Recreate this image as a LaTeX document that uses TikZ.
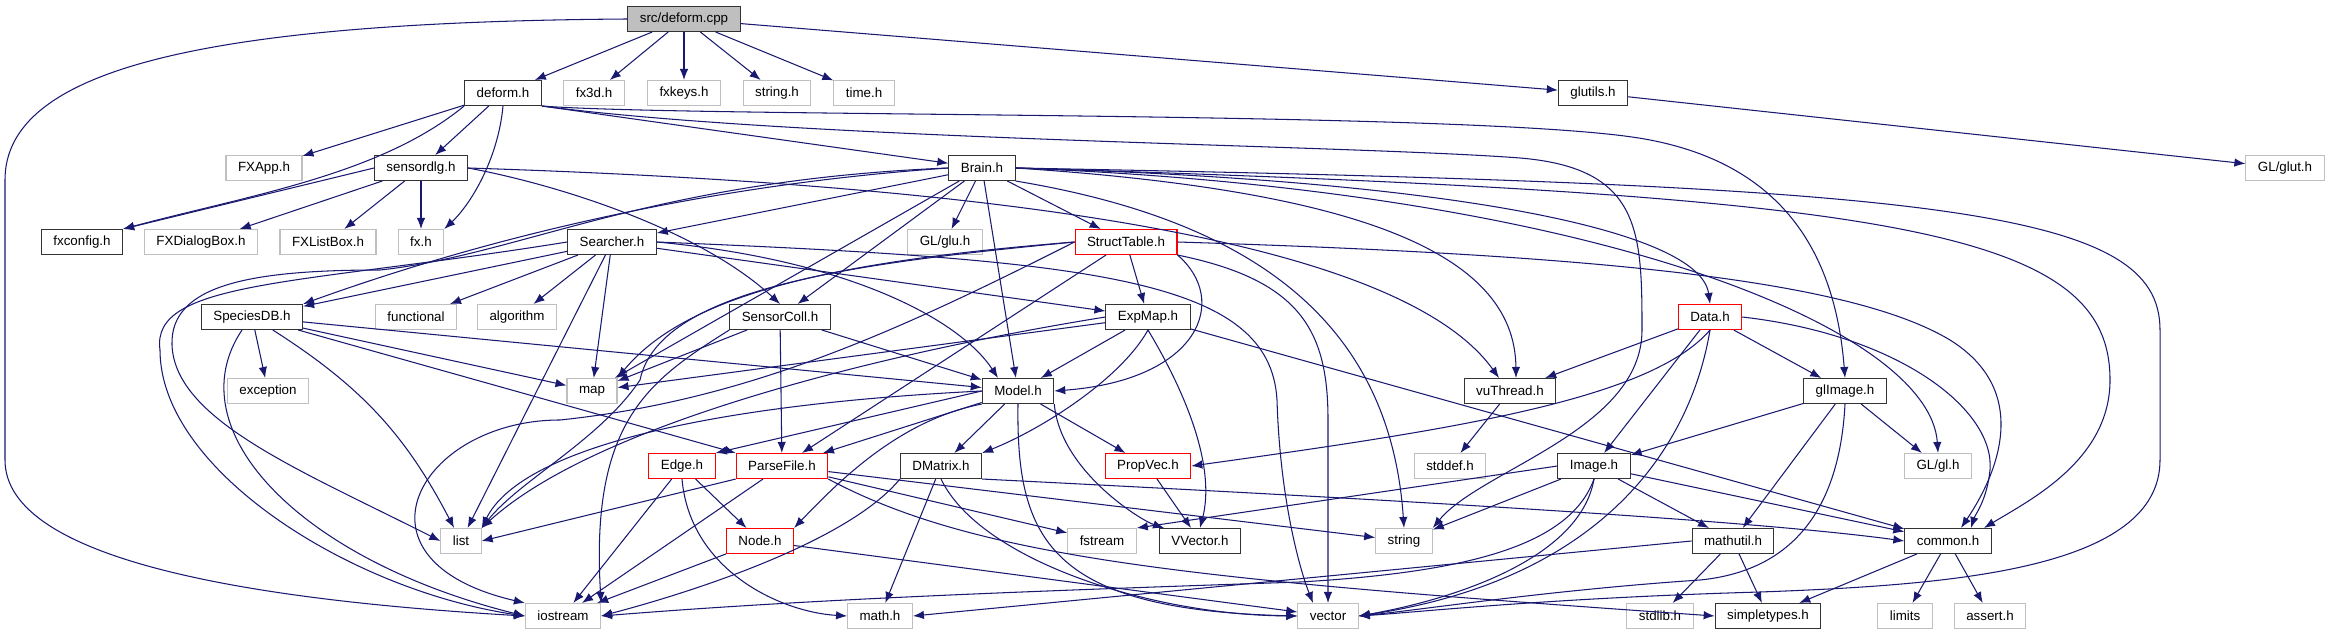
\documentclass[tikz,border=0pt]{standalone}
\usepackage{fontspec}
\setmainfont{Liberation Sans}
\usetikzlibrary{arrows.meta,positioning}
\definecolor{incblue}{RGB}{25,25,112}
\definecolor{sysgray}{RGB}{191,191,191}
\tikzset{
  filebox/.style={draw=black!80,fill=white,line width=0.6pt,minimum height=0.5cm,
    inner xsep=0.24cm,inner ysep=0pt,font=\fontsize{7.6}{9}\selectfont},
  sysbox/.style={filebox,draw=sysgray},
  redbox/.style={filebox,draw=red},
  srcbox/.style={filebox,fill=sysgray},
  incarrow/.style={-{Latex[length=0.22cm,width=0.17cm]},draw=incblue,line width=0.6pt}
}
\begin{document}
\begin{tikzpicture}[x=0.02cm,y=-0.02cm]
  \useasboundingbox (0,0) rectangle (2328,635);
  % files, row by row
  \node[srcbox] (cpp) at (684,19) {src/deform.cpp};
  \node[filebox] (deform) at (503,93) {deform.h};
  \node[sysbox] (fxthreed) at (594,93) {fx3d.h};
  \node[sysbox] (fxkeys) at (684,93) {fxkeys.h};
  \node[sysbox] (stringh) at (777,93) {string.h};
  \node[sysbox] (timeh) at (864,93) {time.h};
  \node[filebox] (glutils) at (1593,93) {glutils.h};
  \node[sysbox] (fxapp) at (264,168) {FXApp.h};
  \node[filebox] (sensordlg) at (421,168) {sensordlg.h};
  \node[filebox] (brain) at (982,168) {Brain.h};
  \node[sysbox] (glut) at (2285,168) {GL/glut.h};
  \node[filebox] (fxconfig) at (82,242) {fxconfig.h};
  \node[sysbox] (fxdialogbox) at (201,242) {FXDialogBox.h};
  \node[sysbox] (fxlistbox) at (328,242) {FXListBox.h};
  \node[sysbox] (fxh) at (421,242) {fx.h};
  \node[filebox] (searcher) at (612,242) {Searcher.h};
  \node[sysbox] (glu) at (945,242) {GL/glu.h};
  \node[redbox] (structtable) at (1126,242) {StructTable.h};
  \node[filebox] (speciesdb) at (252,317) {SpeciesDB.h};
  \node[sysbox] (functional) at (416,317) {functional};
  \node[sysbox] (algorithm) at (517,317) {algorithm};
  \node[filebox] (sensorcoll) at (780,317) {SensorColl.h};
  \node[filebox] (expmap) at (1148,317) {ExpMap.h};
  \node[redbox] (data) at (1710,317) {Data.h};
  \node[sysbox] (exception) at (268,391) {exception};
  \node[sysbox] (map) at (592,391) {map};
  \node[filebox] (model) at (1018,391) {Model.h};
  \node[filebox] (vuthread) at (1510,391) {vuThread.h};
  \node[filebox] (glimage) at (1845,391) {glImage.h};
  \node[redbox] (edge) at (682,466) {Edge.h};
  \node[redbox] (parsefile) at (782,466) {ParseFile.h};
  \node[filebox] (dmatrix) at (941,466) {DMatrix.h};
  \node[redbox] (propvec) at (1148,466) {PropVec.h};
  \node[sysbox] (stddef) at (1450,466) {stddef.h};
  \node[filebox] (image) at (1594,466) {Image.h};
  \node[sysbox] (glgl) at (1938,466) {GL/gl.h};
  \node[sysbox] (list) at (461,541) {list};
  \node[redbox] (node) at (760,541) {Node.h};
  \node[sysbox] (fstream) at (1102,541) {fstream};
  \node[filebox] (vvector) at (1200,541) {VVector.h};
  \node[sysbox] (string) at (1404,541) {string};
  \node[filebox] (mathutil) at (1733,541) {mathutil.h};
  \node[filebox] (common) at (1948,541) {common.h};
  \node[sysbox] (iostream) at (563,616) {iostream};
  \node[sysbox] (mathh) at (880,616) {math.h};
  \node[sysbox] (vector) at (1328,616) {vector};
  \node[sysbox] (stdlib) at (1660,616) {stdlib.h};
  \node[filebox] (simpletypes) at (1768,616) {simpletypes.h};
  \node[sysbox] (limits) at (1905,616) {limits};
  \node[sysbox] (assert) at (1990,616) {assert.h};

  % src/deform.cpp
  \draw[incarrow] (cpp) -- (deform);
  \draw[incarrow] (cpp) -- (fxthreed);
  \draw[incarrow] (cpp) -- (fxkeys);
  \draw[incarrow] (cpp) -- (stringh);
  \draw[incarrow] (cpp) -- (timeh);
  \draw[incarrow] (cpp) -- (glutils);
  \draw[incarrow] (cpp.west) .. controls (200,22) and (5,70) .. (5,180) -- (5,460)
    .. controls (5,560) and (250,600) .. (iostream.west);
  \draw[incarrow] (glutils) -- (glut);

  % deform.h
  \draw[incarrow] (deform) -- (fxapp);
  \draw[incarrow] (deform) -- (sensordlg);
  \draw[incarrow] (deform.south east) -- (brain);
  \draw[incarrow] (deform.south west) .. controls (380,175) and (250,195) .. (fxconfig.north east);
  \draw[incarrow] (deform.south) .. controls (498,160) and (470,205) .. (fxh.north east);
  \draw[incarrow] (deform.south east) .. controls (700,118) and (1500,110) .. (1650,140)
    .. controls (1780,165) and (1835,250) .. (glimage.north);
  \draw[incarrow] (deform.south east) .. controls (800,140) and (1350,145) .. (1520,158)
    .. controls (1640,168) and (1642,230) .. (1642,330)
    .. controls (1642,430) and (1480,470) .. (string.north east);

  % sensordlg.h
  \draw[incarrow] (sensordlg.west) -- (fxconfig.north east);
  \draw[incarrow] (sensordlg) -- (fxdialogbox);
  \draw[incarrow] (sensordlg) -- (fxlistbox);
  \draw[incarrow] (sensordlg) -- (fxh);
  \draw[incarrow] (sensordlg.east) .. controls (560,185) and (700,230) .. (sensorcoll.north);
  \draw[incarrow] (sensordlg.east) .. controls (1000,185) and (1400,240) .. ([xshift=-0.22cm]vuthread.north);

  % Brain.h
  \draw[incarrow] (brain) -- (searcher);
  \draw[incarrow] (brain) -- (sensorcoll);
  \draw[incarrow] (brain) -- (glu);
  \draw[incarrow] (brain) -- (model);
  \draw[incarrow] (brain) -- (structtable);
  \draw[incarrow] (brain) -- (map);
  \draw[incarrow] (brain.west) .. controls (700,185) and (480,240) .. (speciesdb.north east);
  \draw[incarrow] (brain.west) .. controls (650,180) and (520,255) .. (380,270)
    .. controls (250,270) and (170,285) .. (172,345)
    .. controls (175,420) and (300,470) .. (list.west);
  \draw[incarrow] (brain.east) .. controls (1350,190) and (1515,250) .. ([xshift=0.12cm]vuthread.north);
  \draw[incarrow] (brain.east) .. controls (1450,180) and (1700,230) .. (data.north);
  \draw[incarrow] (brain.east) .. controls (1600,190) and (1930,330) .. (glgl.north);
  \draw[incarrow] (brain.south east) .. controls (1250,220) and (1390,320) .. (string.north);
  \draw[incarrow] (brain.east) .. controls (1900,195) and (2110,230) .. (2110,380)
    .. controls (2110,460) and (2030,500) .. ([xshift=0.72cm]common.north);
  \draw[incarrow] (brain.east) .. controls (1950,185) and (2160,210) .. (2160,330) -- (2160,460)
    .. controls (2160,570) and (1950,585) .. (1760,592)
    .. controls (1550,598) and (1420,612) .. (vector.east);

  % Searcher.h
  \draw[incarrow] (searcher) -- (speciesdb);
  \draw[incarrow] (searcher) -- (functional);
  \draw[incarrow] (searcher) -- (algorithm);
  \draw[incarrow] (searcher) -- (map);
  \draw[incarrow] (searcher) -- (list);
  \draw[incarrow] (searcher) -- (expmap);
  \draw[incarrow] (searcher.east) .. controls (850,260) and (960,320) .. ([xshift=-0.4cm]model.north);
  \draw[incarrow] (searcher.west) .. controls (300,285) and (150,280) .. (160,350)
    .. controls (160,470) and (350,590) .. (iostream.west);
  \draw[incarrow] (searcher.east) .. controls (1100,260) and (1270,280) .. (1277,400)
    .. controls (1280,500) and (1300,570) .. ([xshift=-0.3cm]vector.north);

  % SpeciesDB.h
  \draw[incarrow] (speciesdb) -- (exception);
  \draw[incarrow] (speciesdb) -- (map);
  \draw[incarrow] (speciesdb) -- (parsefile.north west);
  \draw[incarrow] (speciesdb) -- (model);
  \draw[incarrow] (speciesdb) to[bend left=15] (list);
  \draw[incarrow] ([xshift=-0.2cm]speciesdb.south) .. controls (175,430) and (300,560) .. (iostream.west);

  % SensorColl.h
  \draw[incarrow] (sensorcoll) -- (map);
  \draw[incarrow] (sensorcoll) -- (model);
  \draw[incarrow] (sensorcoll) -- (parsefile);
  \draw[incarrow] (sensorcoll.south west) .. controls (650,380) and (590,420) .. (iostream.north east);

  % StructTable.h
  \draw[incarrow] (structtable) -- (parsefile);
  \draw[incarrow] (structtable) -- (expmap);
  \draw[incarrow] (structtable.west) .. controls (850,260) and (690,290) .. (map.north east);
  \draw[incarrow] (structtable.west) .. controls (870,262) and (660,285) .. (640,380)
    .. controls (600,440) and (520,480) .. (list.north east);
  \draw[incarrow] (structtable.west) .. controls (900,330) and (750,400) .. (560,420)
    .. controls (420,420) and (340,560) .. (iostream.north west);
  \draw[incarrow] (structtable.south east) .. controls (1230,300) and (1200,380) .. (model.east);
  \draw[incarrow] (structtable.south east) .. controls (1300,280) and (1328,330) .. (1328,420) -- (vector.north);
  \draw[incarrow] (structtable.east) .. controls (1600,255) and (1850,280) .. (1950,340)
    .. controls (2030,390) and (2000,470) .. ([xshift=0.26cm]common.north);

  % ExpMap.h
  \draw[incarrow] (expmap) -- (model);
  \draw[incarrow] (expmap) -- (map);
  \draw[incarrow] (expmap) -- (common);
  \draw[incarrow] (expmap.west) .. controls (900,350) and (600,420) .. (list.north east);
  \draw[incarrow] (expmap.south) .. controls (1120,380) and (1040,430) .. (dmatrix.north east);
  \draw[incarrow] (expmap.south) .. controls (1190,400) and (1215,470) .. (vvector.north);

  % Model.h
  \draw[incarrow] (model.west) -- (edge.north east);
  \draw[incarrow] (model) -- (parsefile);
  \draw[incarrow] (model) -- (dmatrix);
  \draw[incarrow] (model) -- (propvec);
  \draw[incarrow] (model.west) .. controls (700,405) and (520,450) .. (list.north east);
  \draw[incarrow] (model.south west) .. controls (900,420) and (840,480) .. (node.north east);
  \draw[incarrow] (model.south east) .. controls (1060,470) and (1140,520) .. ([xshift=-0.72cm]vvector.north);
  \draw[incarrow] (model.south) .. controls (1016,540) and (1050,610) .. (vector.west);

  % Edge.h, ParseFile.h, DMatrix.h, PropVec.h, Node.h
  \draw[incarrow] (edge) -- (node);
  \draw[incarrow] (edge) -- (iostream);
  \draw[incarrow] (edge.south) .. controls (690,570) and (780,612) .. (mathh.west);
  \draw[incarrow] (parsefile.south west) -- (list.east);
  \draw[incarrow] (parsefile) -- (iostream);
  \draw[incarrow] (parsefile) -- (fstream);
  \draw[incarrow] (parsefile) -- (string);
  \draw[incarrow] (parsefile.south east) .. controls (980,560) and (1200,580) .. (simpletypes.west);
  \draw[incarrow] (dmatrix) -- (mathh);
  \draw[incarrow] (dmatrix.south west) .. controls (850,540) and (700,590) .. (iostream.east);
  \draw[incarrow] (dmatrix.south) .. controls (980,560) and (1150,615) .. (vector.west);
  \draw[incarrow] (dmatrix.south east) .. controls (1400,500) and (1750,520) .. (common.west);
  \draw[incarrow] (propvec) -- (vvector);
  \draw[incarrow] (node) -- (iostream);
  \draw[incarrow] (node) -- (vector);

  % Data.h, vuThread.h, glImage.h
  \draw[incarrow] (data) -- (vuthread);
  \draw[incarrow] (data) -- (image);
  \draw[incarrow] (data) -- (glimage);
  \draw[incarrow] (data.south) .. controls (1650,400) and (1450,430) .. (propvec.east);
  \draw[incarrow] (data.east) .. controls (1900,335) and (1995,410) .. (1990,470)
    .. controls (1987,500) and (1975,515) .. ([xshift=0.46cm]common.north);
  \draw[incarrow] (data.south) .. controls (1690,450) and (1600,580) .. (vector.east);
  \draw[incarrow] (vuthread) -- (stddef);
  \draw[incarrow] (glimage) -- (image);
  \draw[incarrow] (glimage) -- (mathutil);
  \draw[incarrow] (glimage) -- (glgl);
  \draw[incarrow] (glimage.south) .. controls (1840,500) and (1800,570) .. (1700,580)
    .. controls (1550,590) and (1420,610) .. (vector.east);

  % Image.h, mathutil.h, common.h
  \draw[incarrow] (image.west) -- (fstream.north east);
  \draw[incarrow] (image) -- (string);
  \draw[incarrow] (image) -- (mathutil);
  \draw[incarrow] (image) -- (common);
  \draw[incarrow] (image.south) .. controls (1570,545) and (1470,572) .. (1300,582)
    .. controls (1000,592) and (800,600) .. (iostream.east);
  \draw[incarrow] (image.south) .. controls (1580,560) and (1450,600) .. (vector.east);
  \draw[incarrow] (mathutil) -- (stdlib);
  \draw[incarrow] (mathutil) -- (simpletypes);
  \draw[incarrow] (mathutil.west) -- (mathh.east);
  \draw[incarrow] (common) -- (simpletypes);
  \draw[incarrow] (common) -- (limits);
  \draw[incarrow] (common) -- (assert);
\end{tikzpicture}
\end{document}
